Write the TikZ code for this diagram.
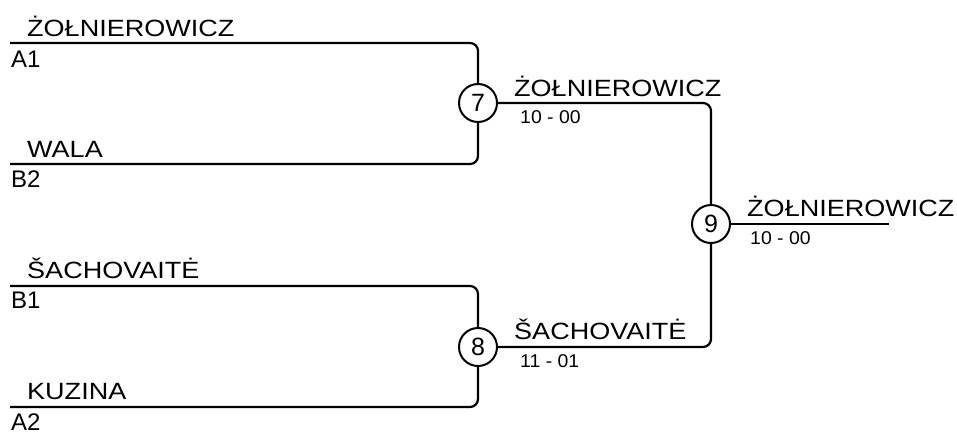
\documentclass[tikz,border=0pt]{standalone}
\usepackage{fontspec}
\setmainfont{Liberation Sans}
\newfontfamily\namefont[FakeStretch=1.15]{Liberation Sans}
\newfontfamily\scorefont[FakeStretch=1.05]{Liberation Sans}
\tikzset{
  bline/.style={line width=2.2pt, rounded corners=8pt},
  matchno/.style={circle, draw, line width=2pt, minimum size=38pt, inner sep=0pt, font=\fontsize{25}{25}\selectfont},
  pname/.style={anchor=base west, inner sep=0pt, font=\namefont\fontsize{23.5}{24}\selectfont},
  seed/.style={anchor=base west, inner sep=0pt, font=\fontsize{24}{24}\selectfont},
  score/.style={anchor=base west, inner sep=0pt, font=\scorefont\fontsize{18.5}{19}\selectfont},
}
\begin{document}
\begin{tikzpicture}[x=1pt,y=-1pt]
\useasboundingbox (0,0) rectangle (957,432);
% match circles
\node[matchno] (c7) at (478,103) {7};
\node[matchno] (c8) at (478,347) {8};
\node[matchno] (c9) at (711,224) {9};
% line start points
\coordinate (s1) at (10,43);
\coordinate (s2) at (10,164);
\coordinate (s3) at (10,286);
\coordinate (s4) at (10,407);
\coordinate (e9) at (889,224);
% connectors
\draw[bline] (s1) -| (c7);
\draw[bline] (s2) -| (c7);
\draw[bline] (s3) -| (c8);
\draw[bline] (s4) -| (c8);
\draw[bline] (c7) -| (c9);
\draw[bline] (c8) -| (c9);
\draw[bline] (c9) -- (e9);
% names round 1
\node[pname] (n1) at (27,36) {ŻOŁNIEROWICZ};
\node[seed] (a1) at (11,67) {A1};
\node[pname] (n2) at (27,157) {WALA};
\node[seed] (b2) at (11,187) {B2};
\node[pname] (n3) at (27,278) {ŠACHOVAITĖ};
\node[seed] (b1) at (11,308) {B1};
\node[pname] (n4) at (27,399) {KUZINA};
\node[seed] (a2) at (11,430) {A2};
% round 2
\node[pname] (w7) at (514,96) {ŻOŁNIEROWICZ};
\node[score] (r7) at (520,123) {10 - 00};
\node[pname] (w8) at (514,339) {ŠACHOVAITĖ};
\node[score] (r8) at (520,367) {11 - 01};
% final
\node[pname] (w9) at (747,216) {ŻOŁNIEROWICZ};
\node[score] (r9) at (750,244) {10 - 00};
\end{tikzpicture}
\end{document}
